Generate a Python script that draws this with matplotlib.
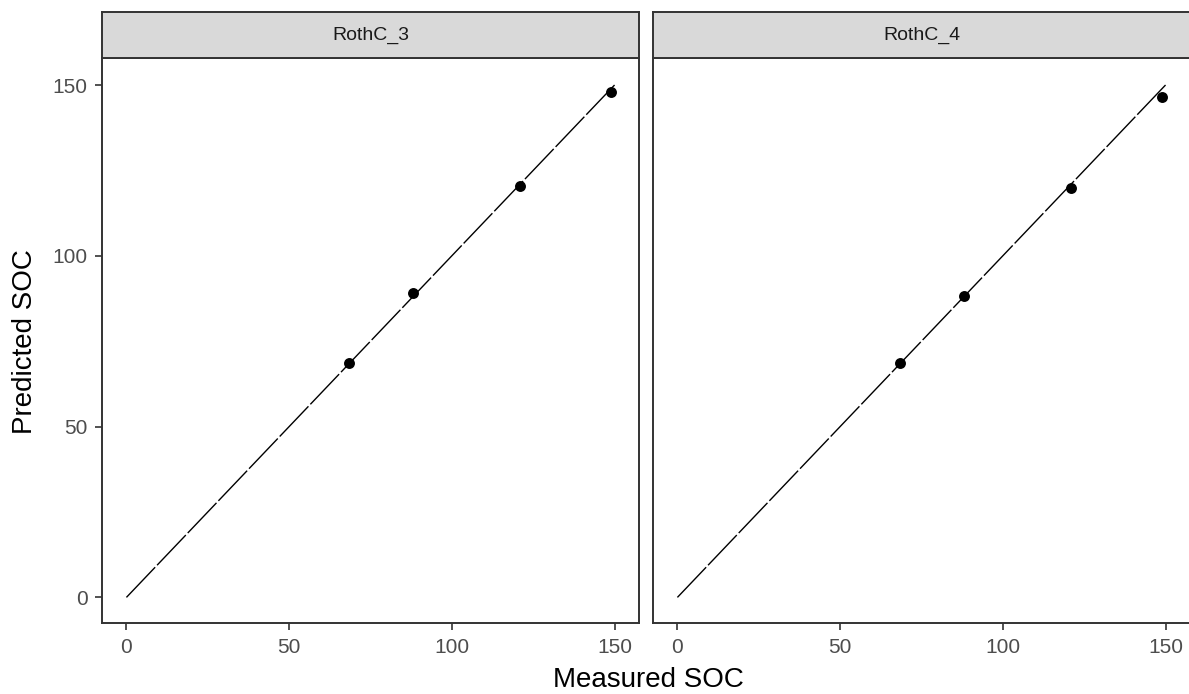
import matplotlib

matplotlib.use("Agg")
import matplotlib.pyplot as plt

# values
models = ["RothC_3", "RothC_4"]
measured = [68.5, 88.2, 121.0, 148.8]
predicted = {
    "RothC_3": [68.7, 89.2, 120.5, 148.0],
    "RothC_4": [68.7, 88.3, 119.9, 146.5],
}
one_to_one = [0, 150]
ticks = [0, 50, 100, 150]

plt.rcParams["font.family"] = ["Liberation Sans", "DejaVu Sans"]

fig = plt.figure(figsize=(11.89, 6.94), dpi=100)

edge = "#333333"
bottom, top = 0.1023, 0.9164
strip_top = 0.9827
lefts = [0.0858, 0.5492]
width = 0.4516

for i, name in enumerate(models):
    ax = fig.add_axes([lefts[i], bottom, width, top - bottom])
    ax.plot(one_to_one, one_to_one, color="black", lw=1.0, ls=(0, (30, 2)))
    ax.scatter(measured, predicted[name], s=62, color="black", zorder=3, linewidths=0)
    ax.set_xlim(-7.5, 157.5)
    ax.set_ylim(-7.5, 157.9)
    ax.set_xticks(ticks)
    ax.set_yticks(ticks)
    for sp in ax.spines.values():
        sp.set_color(edge)
        sp.set_linewidth(1.4)
    ax.tick_params(colors=edge, labelcolor="#4D4D4D", labelsize=15,
                   length=5, width=1.2, pad=5.5)
    if i > 0:
        ax.tick_params(axis="y", left=False, labelleft=False)

    # facet strip
    sax = fig.add_axes([lefts[i], top, width, strip_top - top])
    sax.set_facecolor("#D9D9D9")
    sax.set_xticks([])
    sax.set_yticks([])
    for sp in sax.spines.values():
        sp.set_color(edge)
        sp.set_linewidth(1.4)
    sax.text(0.5, 0.5, name, ha="center", va="center", fontsize=14,
             color="#1A1A1A", transform=sax.transAxes)

fig.text(0.545, 0.02, "Measured SOC", ha="center", va="center", fontsize=20)
fig.text(0.021, 0.508, "Predicted SOC", ha="center", va="center",
         rotation=90, fontsize=20)

fig.savefig("out.png", dpi=100)
plt.close()
